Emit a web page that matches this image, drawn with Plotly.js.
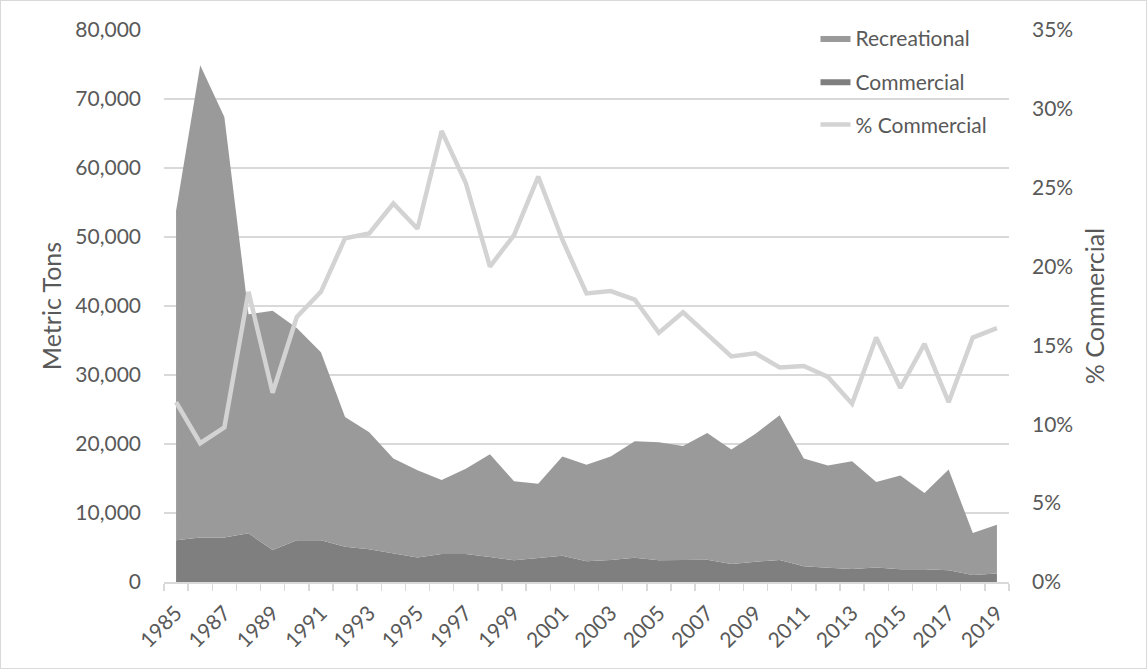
<!DOCTYPE html>
<html>
<head>
<meta charset="utf-8">
<script src="https://cdn.plot.ly/plotly-3.0.1.min.js"></script>
<style>
  html, body { margin: 0; padding: 0; background: #ffffff; }
  #chart { width: 1145px; height: 667px; border: 1px solid #d9d9d9; }
</style>
</head>
<body>
<div id="chart"></div>
<script>
// Categories (years)
const years = [1985, 1986, 1987, 1988, 1989, 1990, 1991, 1992, 1993, 1994,
               1995, 1996, 1997, 1998, 1999, 2000, 2001, 2002, 2003, 2004,
               2005, 2006, 2007, 2008, 2009, 2010, 2011, 2012, 2013, 2014,
               2015, 2016, 2017, 2018, 2019];

// Commercial landings (metric tons)
const commercial = [6050, 6450, 6450, 7050, 4650, 6050, 6050, 5100, 4750, 4200,
                    3550, 4050, 4050, 3620, 3140, 3480, 3800, 3000, 3180, 3500,
                    3140, 3180, 3230, 2600, 2950, 3180, 2300, 2070, 1880, 2100,
                    1850, 1850, 1700, 1000, 1250];

// Recreational landings (metric tons)
const recreational = [47750, 68450, 60950, 31750, 34650, 30750, 27250, 18800, 16950, 13700,
                      12650, 10750, 12350, 14880, 11460, 10770, 14400, 14000, 15020, 16900,
                      17110, 16520, 18370, 16600, 18550, 20970, 15600, 14830, 15620, 12400,
                      13600, 11050, 14600, 6100, 7050];

// Percent commercial
const pctCommercial = [11.4, 8.8, 9.8, 18.4, 12.0, 16.8, 18.4, 21.8, 22.1, 24.0,
                       22.4, 28.6, 25.3, 20.0, 22.0, 25.7, 21.7, 18.3, 18.45, 17.9,
                       15.8, 17.1, 15.7, 14.3, 14.5, 13.6, 13.7, 13.0, 11.3, 15.5,
                       12.3, 15.1, 11.4, 15.5, 16.1];

const cats = years.map(String);
const tickLabels = years.map(y => (y % 2 === 1 ? String(y) : ''));

const FONT = 'Lato, "Open Sans", sans-serif';
const TXT = '#595959';

const traces = [
  {
    name: 'Commercial', x: cats, y: commercial, type: 'scatter', mode: 'lines',
    stackgroup: 'one', line: { width: 0, color: '#7f7f7f' }, fillcolor: '#7f7f7f',
    legendgroup: 'b', legendrank: 2, hoverinfo: 'skip'
  },
  {
    name: 'Recreational', x: cats, y: recreational, type: 'scatter', mode: 'lines',
    stackgroup: 'one', line: { width: 0, color: '#9a9a9a' }, fillcolor: '#9a9a9a',
    legendgroup: 'a', legendrank: 1, hoverinfo: 'skip'
  },
  {
    name: '% Commercial', x: cats, y: pctCommercial, type: 'scatter', mode: 'lines',
    yaxis: 'y2', line: { width: 4.5, color: '#d3d3d3' },
    legendgroup: 'c', legendrank: 3, hoverinfo: 'skip'
  }
];

const layout = {
  width: 1145, height: 667,
  margin: { l: 163, r: 137, t: 29, b: 86 },
  paper_bgcolor: '#ffffff', plot_bgcolor: '#ffffff',
  font: { family: FONT, color: TXT, size: 21 },
  showlegend: true,
  legend: {
    x: 0.771, y: 1.022, xanchor: 'left', yanchor: 'top',
    bgcolor: 'rgba(0,0,0,0)', font: { size: 21, color: TXT },
    traceorder: 'grouped', tracegroupgap: 13
  },
  xaxis: {
    type: 'category', range: [-0.5, 34.5],
    tickmode: 'array', tickvals: cats, ticktext: tickLabels,
    tickson: 'boundaries', ticks: 'outside', ticklen: 7, tickcolor: '#d9d9d9', tickwidth: 1.5,
    showline: true, linecolor: '#d9d9d9', linewidth: 1.5,
    showgrid: false, zeroline: false,
    tickangle: -45, tickfont: { size: 21, color: TXT }, ticklabelstandoff: 9
  },
  yaxis: {
    range: [0, 80000], dtick: 10000, tickformat: ',d',
    showgrid: true, gridcolor: '#d9d9d9', gridwidth: 1.3,
    zeroline: false, showline: false, ticks: '',
    tickfont: { size: 21, color: TXT }, ticklabelstandoff: 22,
    title: { text: 'Metric Tons', font: { size: 25, color: TXT }, standoff: 6 }
  },
  yaxis2: {
    overlaying: 'y', side: 'right', range: [0, 35], dtick: 5, ticksuffix: '%',
    showgrid: false, zeroline: false, showline: false, ticks: '',
    tickfont: { size: 21, color: TXT }, ticklabelstandoff: 22,
    title: { text: '% Commercial', font: { size: 25, color: TXT }, standoff: 14 }
  }
};

Plotly.newPlot('chart', traces, layout, { displayModeBar: false, staticPlot: true });
</script>
</body>
</html>
